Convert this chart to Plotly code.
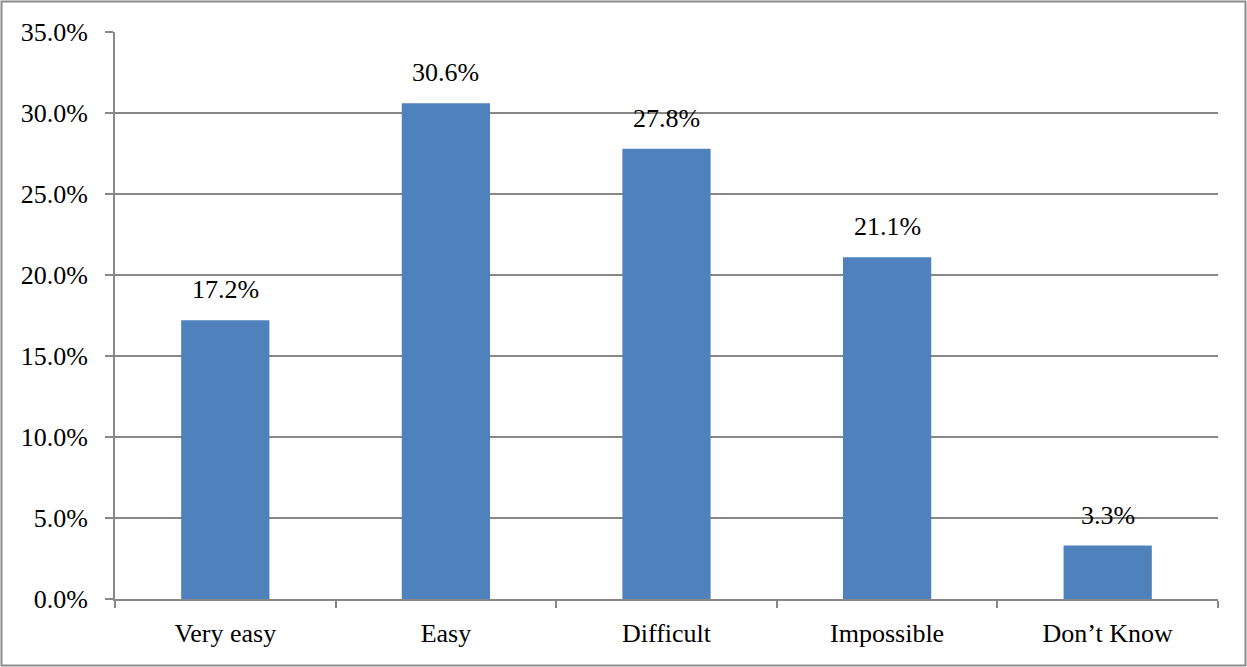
import plotly.graph_objects as go

categories = ["Very easy", "Easy", "Difficult", "Impossible", "Don\u2019t Know"]
shares = [17.2, 30.6, 27.8, 21.1, 3.3]
y_ticks = [0, 5, 10, 15, 20, 25, 30, 35]

W, H = 1247, 667
ML, MR, MT, MB = 115, 29, 32, 68
FONT = "Liberation Serif, Times New Roman, serif"
FS = 26
GRID = "#878787"

fig = go.Figure(
    go.Bar(
        x=categories,
        y=shares,
        width=0.4,
        marker=dict(color="#4F81BD", line=dict(width=0)),
        hoverinfo="x+y",
    )
)

# value labels above each bar
for c, v in zip(categories, shares):
    fig.add_annotation(
        x=c, y=v, text=f"{v:.1f}%", showarrow=False,
        yanchor="bottom", yshift=14,
        font=dict(family=FONT, size=FS, color="#000000"),
    )

# frame around the whole chart
pw, ph = W - ML - MR, H - MT - MB
fig.add_shape(
    type="rect", xref="paper", yref="paper",
    x0=(1.5 - ML) / pw, x1=(W - 1.5 - ML) / pw,
    y0=-(MB - 1.5) / ph, y1=1 + (MT - 1.5) / ph,
    line=dict(color="#8C8C8C", width=2), fillcolor="rgba(0,0,0,0)",
)

fig.update_layout(
    width=W, height=H,
    margin=dict(l=ML, r=MR, t=MT, b=MB),
    paper_bgcolor="white", plot_bgcolor="white",
    showlegend=False,
    font=dict(family=FONT, size=FS, color="#000000"),
    xaxis=dict(
        type="category",
        showline=True, linecolor=GRID, linewidth=2,
        ticks="outside", tickson="boundaries", ticklen=7,
        tickcolor=GRID, tickwidth=2,
        showgrid=False,
        tickfont=dict(family=FONT, size=FS, color="#000000"),
        ticklabelstandoff=10,
    ),
    yaxis=dict(
        range=[0, 35],
        tickvals=y_ticks,
        ticktext=[f"{t:.1f}%" for t in y_ticks],
        showline=True, linecolor=GRID, linewidth=2,
        ticks="outside", ticklen=8, tickcolor=GRID, tickwidth=2,
        showgrid=True, gridcolor=GRID, gridwidth=2,
        zeroline=False,
        tickfont=dict(family=FONT, size=FS, color="#000000"),
        ticklabelstandoff=12,
    ),
)

fig.write_html("out.html")
